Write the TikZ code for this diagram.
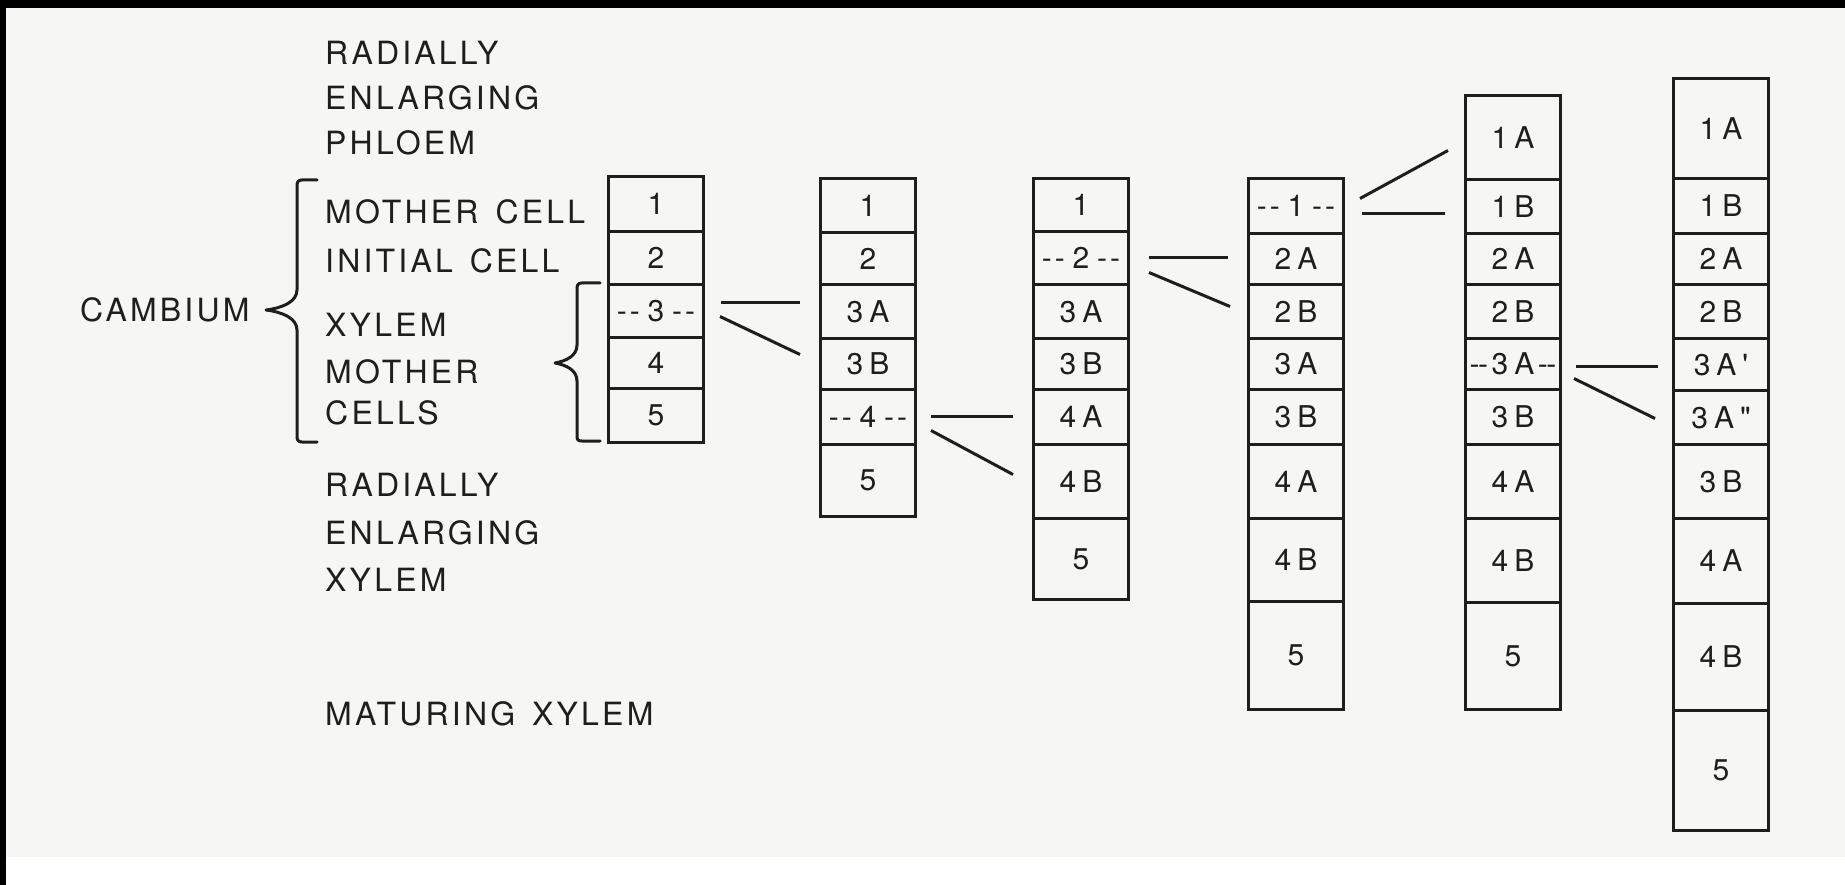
\documentclass[tikz,border=0pt]{standalone}
\usepackage{fontspec}
\newfontfamily\labfont{TeX Gyre Heros}[LetterSpace=10, WordSpace=1.4]
\newfontfamily\cellfont{TeX Gyre Heros}[LetterSpace=20]
\usetikzlibrary{calc}
\definecolor{paper}{HTML}{F6F6F4}
\definecolor{ink}{HTML}{1E1E1E}
% dashed label: --N--
\newcommand{\dlab}[2][13pt]{\hbox to 88pt{\cleaders\hbox to #1{\hss-\hss}\hfill\kern3pt #2\kern3pt\cleaders\hbox to #1{\hss-\hss}\hfill}}
\newcommand{\mkcell}[5]{\node[cellbox, minimum height={#4pt-#3pt}] (#1) at (#2,-#3) {#5};}
\tikzset{
  cellbox/.style={draw=ink, line width=3pt, minimum width=95pt, inner sep=0pt,
    anchor=north west, font=\cellfont\fontsize{30}{36}\selectfont, text=ink},
  lab/.style={anchor=west, inner sep=0pt, font=\labfont\fontsize{32}{38}\selectfont, text=ink},
  conn/.style={draw=ink, line width=3pt},
  brace/.style={draw=ink, line width=3pt, line join=round, line cap=round},
}
\begin{document}
\begin{tikzpicture}[x=1pt,y=1pt]
\useasboundingbox (0,0) rectangle (1845,-885);
\fill[white] (0,0) rectangle (1845,-885);
\fill[paper] (0,0) rectangle (1845,-857);
\fill[black] (0,0) rectangle (1845,-8);
\fill[black] (0,0) rectangle (6,-885);

% left labels
\node[lab] (rad1) at (325,-53) {RADIALLY};
\node[lab] (enl1) at (325,-98) {ENLARGING};
\node[lab] (phl) at (325,-143) {PHLOEM};
\node[lab] (moc) at (325,-212) {MOTHER CELL};
\node[lab] (inc) at (325,-261) {INITIAL CELL};
\node[lab] (camb) at (80,-310) {CAMBIUM};
\node[lab] (xmc1) at (325,-325) {XYLEM};
\node[lab] (xmc2) at (325,-372) {MOTHER};
\node[lab] (xmc3) at (325,-413) {CELLS};
\node[lab] (rad2) at (325,-485) {RADIALLY};
\node[lab] (enl2) at (325,-533) {ENLARGING};
\node[lab] (xyl) at (325,-580) {XYLEM};
\node[lab] (mat) at (325,-714) {MATURING XYLEM};

% braces
\draw[brace] (317,-180) -- (302,-180) .. controls (298,-180) and (297,-182) .. (297,-186)
  -- (297,-290) .. controls (297,-302) and (282,-308) .. (266,-310)
  .. controls (282,-312) and (297,-318) .. (297,-330)
  -- (297,-436) .. controls (297,-440) and (298,-442) .. (302,-442) -- (317,-442);
\draw[brace] (600,-283) -- (582,-283) .. controls (578,-283) and (577,-285) .. (577,-289)
  -- (577,-345) .. controls (577,-356) and (566,-361) .. (555,-363)
  .. controls (566,-365) and (577,-370) .. (577,-381)
  -- (577,-436) .. controls (577,-440) and (578,-441) .. (582,-441) -- (600,-441);

% column 1
\mkcell{c1r1}{607}{175}{230}{1}
\mkcell{c1r2}{607}{230}{283}{2}
\mkcell{c1r3}{607}{283}{336}{\dlab{3}}
\mkcell{c1r4}{607}{336}{387}{4}
\mkcell{c1r5}{607}{387}{441}{5}
% column 2
\mkcell{c2r1}{819}{177}{231}{1}
\mkcell{c2r2}{819}{231}{283}{2}
\mkcell{c2r3}{819}{283}{337}{3A}
\mkcell{c2r4}{819}{337}{388}{3B}
\mkcell{c2r5}{819}{388}{443}{\dlab{4}}
\mkcell{c2r6}{819}{443}{515}{5}
% column 3
\mkcell{c3r1}{1032}{177}{230}{1}
\mkcell{c3r2}{1032}{230}{283}{\dlab{2}}
\mkcell{c3r3}{1032}{283}{337}{3A}
\mkcell{c3r4}{1032}{337}{388}{3B}
\mkcell{c3r5}{1032}{388}{443}{4A}
\mkcell{c3r6}{1032}{443}{517}{4B}
\mkcell{c3r7}{1032}{517}{598}{5}
% column 4
\mkcell{c4r1}{1247}{177}{232}{\dlab{1}}
\mkcell{c4r2}{1247}{232}{283}{2A}
\mkcell{c4r3}{1247}{283}{337}{2B}
\mkcell{c4r4}{1247}{337}{388}{3A}
\mkcell{c4r5}{1247}{388}{443}{3B}
\mkcell{c4r6}{1247}{443}{517}{4A}
\mkcell{c4r7}{1247}{517}{600}{4B}
\mkcell{c4r8}{1247}{600}{708}{5}
% column 5
\mkcell{c5r1}{1464}{94}{178}{1A}
\mkcell{c5r2}{1464}{178}{232}{1B}
\mkcell{c5r3}{1464}{232}{283}{2A}
\mkcell{c5r4}{1464}{283}{337}{2B}
\mkcell{c5r5}{1464}{337}{388}{\dlab[8.5pt]{3A}}
\mkcell{c5r6}{1464}{388}{443}{3B}
\mkcell{c5r7}{1464}{443}{517}{4A}
\mkcell{c5r8}{1464}{517}{601}{4B}
\mkcell{c5r9}{1464}{601}{708}{5}
% column 6
\mkcell{c6r1}{1672}{77}{177}{1A}
\mkcell{c6r2}{1672}{177}{232}{1B}
\mkcell{c6r3}{1672}{232}{283}{2A}
\mkcell{c6r4}{1672}{283}{337}{2B}
\mkcell{c6r5}{1672}{337}{389}{3A\char"27}
\mkcell{c6r6}{1672}{389}{443}{3A\char"22}
\mkcell{c6r7}{1672}{443}{517}{3B}
\mkcell{c6r8}{1672}{517}{602}{4A}
\mkcell{c6r9}{1672}{602}{709}{4B}
\mkcell{c6r10}{1672}{709}{829}{5}

% connectors (division lines)
\draw[conn] ($(c1r3.east)+(16,8.5)$) -- ($(c2r3.west)+(-19,9)$);
\draw[conn] ($(c1r3.east)+(15,-5.5)$) -- ($(c2r4.west)+(-19,9.5)$);
\draw[conn] ($(c2r5.east)+(14,0.5)$) -- ($(c3r5.west)+(-19,0.5)$);
\draw[conn] ($(c2r5.east)+(14,-13.5)$) -- ($(c3r6.west)+(-19,7)$);
\draw[conn] ($(c3r2.east)+(19,0.5)$) -- ($(c4r2.west)+(-19,1.5)$);
\draw[conn] ($(c3r2.east)+(19,-14.5)$) -- ($(c4r3.west)+(-17,5)$);
\draw[conn] ($(c4r1.east)+(15,7.5)$) -- ($(c5r1.west)+(-16,-13)$);
\draw[conn] ($(c4r1.east)+(17,-7.5)$) -- ($(c5r2.west)+(-19,-7)$);
\draw[conn] ($(c5r5.east)+(14,-2.5)$) -- ($(c6r5.west)+(-14,-2)$);
\draw[conn] ($(c5r5.east)+(12,-14.5)$) -- ($(c6r6.west)+(-17,-1)$);
\end{tikzpicture}
\end{document}
